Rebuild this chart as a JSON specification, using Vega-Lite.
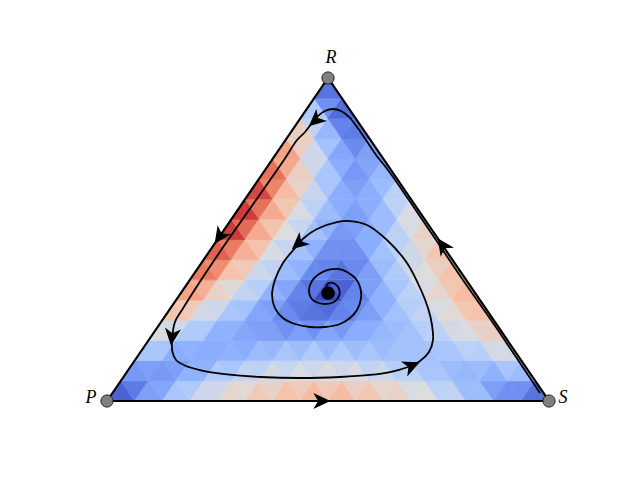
{
"$schema":"https://vega.github.io/schema/vega-lite/v6.json",
"width":640,"height":478,
"autosize":{"type":"fit","contains":"padding"},
"padding":0,
"background":"white",
"config":{"view":{"stroke":null}},
"datasets":{
"heat":[
{"x":1,"y":1,"t":"u","v":3},{"x":2,"y":1,"t":"d","v":6},{"x":3,"y":1,"t":"u","v":11},{"x":4,"y":1,"t":"d","v":12},{"x":5,"y":1,"t":"u","v":18},{"x":6,"y":1,"t":"d","v":19},{"x":7,"y":1,"t":"u","v":24},{"x":8,"y":1,"t":"d","v":24},{"x":9,"y":1,"t":"u","v":29},{"x":10,"y":1,"t":"d","v":28},{"x":11,"y":1,"t":"u","v":32},{"x":12,"y":1,"t":"d","v":30},{"x":13,"y":1,"t":"u","v":34},{"x":14,"y":1,"t":"d","v":32},{"x":15,"y":1,"t":"u","v":35},{"x":16,"y":1,"t":"d","v":32},{"x":17,"y":1,"t":"u","v":35},{"x":18,"y":1,"t":"d","v":31},{"x":19,"y":1,"t":"u","v":33},{"x":20,"y":1,"t":"d","v":29},{"x":21,"y":1,"t":"u","v":30},{"x":22,"y":1,"t":"d","v":26},{"x":23,"y":1,"t":"u","v":27},{"x":24,"y":1,"t":"d","v":21},{"x":25,"y":1,"t":"u","v":22},{"x":26,"y":1,"t":"d","v":16},{"x":27,"y":1,"t":"u","v":16},{"x":28,"y":1,"t":"d","v":11},{"x":29,"y":1,"t":"u","v":9},{"x":30,"y":1,"t":"d","v":9},{"x":31,"y":1,"t":"u","v":5},
{"x":2,"y":3,"t":"u","v":10},{"x":3,"y":3,"t":"d","v":11},{"x":4,"y":3,"t":"u","v":10},{"x":5,"y":3,"t":"d","v":11},{"x":6,"y":3,"t":"u","v":14},{"x":7,"y":3,"t":"d","v":14},{"x":8,"y":3,"t":"u","v":19},{"x":9,"y":3,"t":"d","v":18},{"x":10,"y":3,"t":"u","v":22},{"x":11,"y":3,"t":"d","v":21},{"x":12,"y":3,"t":"u","v":25},{"x":13,"y":3,"t":"d","v":23},{"x":14,"y":3,"t":"u","v":26},{"x":15,"y":3,"t":"d","v":24},{"x":16,"y":3,"t":"u","v":26},{"x":17,"y":3,"t":"d","v":24},{"x":18,"y":3,"t":"u","v":26},{"x":19,"y":3,"t":"d","v":22},{"x":20,"y":3,"t":"u","v":24},{"x":21,"y":3,"t":"d","v":20},{"x":22,"y":3,"t":"u","v":21},{"x":23,"y":3,"t":"d","v":18},{"x":24,"y":3,"t":"u","v":18},{"x":25,"y":3,"t":"d","v":16},{"x":26,"y":3,"t":"u","v":15},{"x":27,"y":3,"t":"d","v":16},{"x":28,"y":3,"t":"u","v":14},{"x":29,"y":3,"t":"d","v":18},{"x":30,"y":3,"t":"u","v":16},
{"x":3,"y":5,"t":"u","v":18},{"x":4,"y":5,"t":"d","v":18},{"x":5,"y":5,"t":"u","v":13},{"x":6,"y":5,"t":"d","v":14},{"x":7,"y":5,"t":"u","v":13},{"x":8,"y":5,"t":"d","v":13},{"x":9,"y":5,"t":"u","v":14},{"x":10,"y":5,"t":"d","v":13},{"x":11,"y":5,"t":"u","v":16},{"x":12,"y":5,"t":"d","v":15},{"x":13,"y":5,"t":"u","v":18},{"x":14,"y":5,"t":"d","v":16},{"x":15,"y":5,"t":"u","v":19},{"x":16,"y":5,"t":"d","v":16},{"x":17,"y":5,"t":"u","v":19},{"x":18,"y":5,"t":"d","v":16},{"x":19,"y":5,"t":"u","v":18},{"x":20,"y":5,"t":"d","v":16},{"x":21,"y":5,"t":"u","v":17},{"x":22,"y":5,"t":"d","v":17},{"x":23,"y":5,"t":"u","v":17},{"x":24,"y":5,"t":"d","v":18},{"x":25,"y":5,"t":"u","v":18},{"x":26,"y":5,"t":"d","v":21},{"x":27,"y":5,"t":"u","v":20},{"x":28,"y":5,"t":"d","v":25},{"x":29,"y":5,"t":"u","v":25},
{"x":4,"y":7,"t":"u","v":26},{"x":5,"y":7,"t":"d","v":25},{"x":6,"y":7,"t":"u","v":19},{"x":7,"y":7,"t":"d","v":19},{"x":8,"y":7,"t":"u","v":14},{"x":9,"y":7,"t":"d","v":14},{"x":10,"y":7,"t":"u","v":12},{"x":11,"y":7,"t":"d","v":11},{"x":12,"y":7,"t":"u","v":11},{"x":13,"y":7,"t":"d","v":9},{"x":14,"y":7,"t":"u","v":11},{"x":15,"y":7,"t":"d","v":9},{"x":16,"y":7,"t":"u","v":12},{"x":17,"y":7,"t":"d","v":10},{"x":18,"y":7,"t":"u","v":13},{"x":19,"y":7,"t":"d","v":13},{"x":20,"y":7,"t":"u","v":15},{"x":21,"y":7,"t":"d","v":16},{"x":22,"y":7,"t":"u","v":17},{"x":23,"y":7,"t":"d","v":20},{"x":24,"y":7,"t":"u","v":21},{"x":25,"y":7,"t":"d","v":25},{"x":26,"y":7,"t":"u","v":26},{"x":27,"y":7,"t":"d","v":30},{"x":28,"y":7,"t":"u","v":31},
{"x":5,"y":9,"t":"u","v":33},{"x":6,"y":9,"t":"d","v":32},{"x":7,"y":9,"t":"u","v":25},{"x":8,"y":9,"t":"d","v":24},{"x":9,"y":9,"t":"u","v":18},{"x":10,"y":9,"t":"d","v":17},{"x":11,"y":9,"t":"u","v":12},{"x":12,"y":9,"t":"d","v":11},{"x":13,"y":9,"t":"u","v":8},{"x":14,"y":9,"t":"d","v":6},{"x":15,"y":9,"t":"u","v":5},{"x":16,"y":9,"t":"d","v":4},{"x":17,"y":9,"t":"u","v":7},{"x":18,"y":9,"t":"d","v":8},{"x":19,"y":9,"t":"u","v":11},{"x":20,"y":9,"t":"d","v":14},{"x":21,"y":9,"t":"u","v":17},{"x":22,"y":9,"t":"d","v":20},{"x":23,"y":9,"t":"u","v":22},{"x":24,"y":9,"t":"d","v":26},{"x":25,"y":9,"t":"u","v":28},{"x":26,"y":9,"t":"d","v":33},{"x":27,"y":9,"t":"u","v":34},
{"x":6,"y":11,"t":"u","v":39},{"x":7,"y":11,"t":"d","v":37},{"x":8,"y":11,"t":"u","v":30},{"x":9,"y":11,"t":"d","v":28},{"x":10,"y":11,"t":"u","v":22},{"x":11,"y":11,"t":"d","v":20},{"x":12,"y":11,"t":"u","v":14},{"x":13,"y":11,"t":"d","v":12},{"x":14,"y":11,"t":"u","v":7},{"x":15,"y":11,"t":"d","v":5},{"x":16,"y":11,"t":"u","v":0},{"x":17,"y":11,"t":"d","v":3},{"x":18,"y":11,"t":"u","v":7},{"x":19,"y":11,"t":"d","v":11},{"x":20,"y":11,"t":"u","v":14},{"x":21,"y":11,"t":"d","v":18},{"x":22,"y":11,"t":"u","v":21},{"x":23,"y":11,"t":"d","v":26},{"x":24,"y":11,"t":"u","v":29},{"x":25,"y":11,"t":"d","v":33},{"x":26,"y":11,"t":"u","v":35},
{"x":7,"y":13,"t":"u","v":44},{"x":8,"y":13,"t":"d","v":42},{"x":9,"y":13,"t":"u","v":34},{"x":10,"y":13,"t":"d","v":32},{"x":11,"y":13,"t":"u","v":24},{"x":12,"y":13,"t":"d","v":22},{"x":13,"y":13,"t":"u","v":16},{"x":14,"y":13,"t":"d","v":14},{"x":15,"y":13,"t":"u","v":8},{"x":16,"y":13,"t":"d","v":7},{"x":17,"y":13,"t":"u","v":5},{"x":18,"y":13,"t":"d","v":8},{"x":19,"y":13,"t":"u","v":11},{"x":20,"y":13,"t":"d","v":16},{"x":21,"y":13,"t":"u","v":19},{"x":22,"y":13,"t":"d","v":24},{"x":23,"y":13,"t":"u","v":27},{"x":24,"y":13,"t":"d","v":31},{"x":25,"y":13,"t":"u","v":34},
{"x":8,"y":15,"t":"u","v":47},{"x":9,"y":15,"t":"d","v":44},{"x":10,"y":15,"t":"u","v":37},{"x":11,"y":15,"t":"d","v":34},{"x":12,"y":15,"t":"u","v":26},{"x":13,"y":15,"t":"d","v":23},{"x":14,"y":15,"t":"u","v":17},{"x":15,"y":15,"t":"d","v":14},{"x":16,"y":15,"t":"u","v":9},{"x":17,"y":15,"t":"d","v":9},{"x":18,"y":15,"t":"u","v":9},{"x":19,"y":15,"t":"d","v":13},{"x":20,"y":15,"t":"u","v":17},{"x":21,"y":15,"t":"d","v":21},{"x":22,"y":15,"t":"u","v":24},{"x":23,"y":15,"t":"d","v":29},{"x":24,"y":15,"t":"u","v":33},
{"x":9,"y":17,"t":"u","v":50},{"x":10,"y":17,"t":"d","v":46},{"x":11,"y":17,"t":"u","v":38},{"x":12,"y":17,"t":"d","v":34},{"x":13,"y":17,"t":"u","v":27},{"x":14,"y":17,"t":"d","v":23},{"x":15,"y":17,"t":"u","v":17},{"x":16,"y":17,"t":"d","v":14},{"x":17,"y":17,"t":"u","v":10},{"x":18,"y":17,"t":"d","v":11},{"x":19,"y":17,"t":"u","v":13},{"x":20,"y":17,"t":"d","v":16},{"x":21,"y":17,"t":"u","v":21},{"x":22,"y":17,"t":"d","v":26},{"x":23,"y":17,"t":"u","v":30},
{"x":10,"y":19,"t":"u","v":50},{"x":11,"y":19,"t":"d","v":45},{"x":12,"y":19,"t":"u","v":38},{"x":13,"y":19,"t":"d","v":33},{"x":14,"y":19,"t":"u","v":26},{"x":15,"y":19,"t":"d","v":21},{"x":16,"y":19,"t":"u","v":16},{"x":17,"y":19,"t":"d","v":13},{"x":18,"y":19,"t":"u","v":11},{"x":19,"y":19,"t":"d","v":13},{"x":20,"y":19,"t":"u","v":16},{"x":21,"y":19,"t":"d","v":21},{"x":22,"y":19,"t":"u","v":26},
{"x":11,"y":21,"t":"u","v":49},{"x":12,"y":21,"t":"d","v":43},{"x":13,"y":21,"t":"u","v":35},{"x":14,"y":21,"t":"d","v":30},{"x":15,"y":21,"t":"u","v":23},{"x":16,"y":21,"t":"d","v":18},{"x":17,"y":21,"t":"u","v":13},{"x":18,"y":21,"t":"d","v":11},{"x":19,"y":21,"t":"u","v":13},{"x":20,"y":21,"t":"d","v":16},{"x":21,"y":21,"t":"u","v":21},
{"x":12,"y":23,"t":"u","v":45},{"x":13,"y":23,"t":"d","v":38},{"x":14,"y":23,"t":"u","v":31},{"x":15,"y":23,"t":"d","v":24},{"x":16,"y":23,"t":"u","v":18},{"x":17,"y":23,"t":"d","v":13},{"x":18,"y":23,"t":"u","v":10},{"x":19,"y":23,"t":"d","v":12},{"x":20,"y":23,"t":"u","v":15},
{"x":13,"y":25,"t":"u","v":39},{"x":14,"y":25,"t":"d","v":31},{"x":15,"y":25,"t":"u","v":24},{"x":16,"y":25,"t":"d","v":17},{"x":17,"y":25,"t":"u","v":12},{"x":18,"y":25,"t":"d","v":8},{"x":19,"y":25,"t":"u","v":11},
{"x":14,"y":27,"t":"u","v":31},{"x":15,"y":27,"t":"d","v":22},{"x":16,"y":27,"t":"u","v":15},{"x":17,"y":27,"t":"d","v":7},{"x":18,"y":27,"t":"u","v":6},
{"x":15,"y":29,"t":"u","v":19},{"x":16,"y":29,"t":"d","v":9},{"x":17,"y":29,"t":"u","v":4},
{"x":16,"y":31,"t":"u","v":5}
],
"edges":[{"i":0,"x":0,"y":0},{"i":1,"x":32,"y":0},{"i":2,"x":16,"y":32},{"i":3,"x":0,"y":0}],
"traj":[
{"i":0,"x":31.35,"y":0.79},{"i":1,"x":29.76,"y":4.06},{"i":2,"x":27.8,"y":8.02},{"i":3,"x":25.77,"y":11.99},{"i":4,"x":23.82,"y":15.95},{"i":5,"x":21.86,"y":19.91},{"i":6,"x":20.34,"y":22.89},{"i":7,"x":19.48,"y":24.37},{"i":8,"x":18.75,"y":25.86},{"i":9,"x":18.1,"y":27.15},{"i":10,"x":17.52,"y":28.14},{"i":11,"x":16.94,"y":28.73},{"i":12,"x":16.36,"y":28.93},{"i":13,"x":15.78,"y":28.73},{"i":14,"x":15.28,"y":28.24},{"i":15,"x":14.84,"y":27.54},{"i":16,"x":14.34,"y":26.65},{"i":17,"x":13.76,"y":25.86},{"i":18,"x":12.81,"y":23.88},{"i":19,"x":10.79,"y":19.91},{"i":20,"x":8.76,"y":15.95},{"i":21,"x":6.81,"y":11.99},{"i":22,"x":5.43,"y":9.02},{"i":23,"x":4.92,"y":7.83},{"i":24,"x":4.71,"y":6.04},{"i":25,"x":4.74,"y":4.85},{"i":26,"x":5.0,"y":4.06},{"i":27,"x":5.72,"y":3.47},{"i":28,"x":6.73,"y":3.07},{"i":29,"x":7.96,"y":2.77},{"i":30,"x":9.05,"y":2.58},{"i":31,"x":11.08,"y":2.38},{"i":32,"x":13.97,"y":2.28},{"i":33,"x":16.87,"y":2.38},{"i":34,"x":19.04,"y":2.58},{"i":35,"x":20.49,"y":2.87},{"i":36,"x":21.79,"y":3.37},{"i":37,"x":22.66,"y":3.96},{"i":38,"x":23.31,"y":4.85},{"i":39,"x":23.6,"y":6.04},{"i":40,"x":23.53,"y":7.53},{"i":41,"x":23.24,"y":9.21},{"i":42,"x":22.73,"y":11.0},{"i":43,"x":21.72,"y":13.67},{"i":44,"x":20.27,"y":15.95},{"i":45,"x":18.82,"y":17.44},{"i":46,"x":17.59,"y":17.83},{"i":47,"x":16.65,"y":17.73},{"i":48,"x":15.2,"y":17.04},{"i":49,"x":14.26,"y":16.15},{"i":50,"x":13.68,"y":15.26},{"i":51,"x":12.74,"y":13.67},{"i":52,"x":12.16,"y":11.99},{"i":53,"x":11.95,"y":10.5},{"i":54,"x":12.16,"y":9.21},{"i":55,"x":12.74,"y":8.22},{"i":56,"x":13.61,"y":7.63},{"i":57,"x":14.7,"y":7.33},{"i":58,"x":15.78,"y":7.33},{"i":59,"x":16.87,"y":7.63},{"i":60,"x":17.59,"y":8.22},{"i":61,"x":18.1,"y":9.02},{"i":62,"x":18.39,"y":10.2},{"i":63,"x":18.32,"y":11.29},{"i":64,"x":17.96,"y":12.19},{"i":65,"x":17.38,"y":12.78},{"i":66,"x":16.72,"y":13.08},{"i":67,"x":16.0,"y":12.98},{"i":68,"x":15.35,"y":12.58},{"i":69,"x":14.84,"y":11.89},{"i":70,"x":14.62,"y":11.0},{"i":71,"x":14.77,"y":10.2},{"i":72,"x":15.13,"y":9.81},{"i":73,"x":15.78,"y":9.61},{"i":74,"x":16.43,"y":9.81},{"i":75,"x":16.8,"y":10.4},{"i":76,"x":16.8,"y":11.1},{"i":77,"x":16.51,"y":11.59},{"i":78,"x":16.07,"y":11.69},{"i":79,"x":15.86,"y":11.29},{"i":80,"x":16.0,"y":10.7}
],
"arrows":[
{"x":15.49,"y":0,"a":90},{"x":24.33,"y":15.36,"a":-34.4},{"x":8.18,"y":16.35,"a":214.4},{"x":15.13,"y":27.84,"a":228.6},{"x":4.71,"y":6.44,"a":186.8},{"x":22.01,"y":3.47,"a":66.5},{"x":13.9,"y":15.65,"a":229.4}
],
"center":[{"x":16,"y":10.67}],
"verts":[{"x":16,"y":32},{"x":0,"y":0},{"x":32,"y":0}],
"labels":[{"x":16.22,"y":33.98,"n":"R"},{"x":-1.16,"y":0.3,"n":"P"},{"x":33.01,"y":0.3,"n":"S"}]
},
"encoding":{
"x":{"field":"x","type":"quantitative","scale":{"domain":[-7.7466,38.5882],"nice":false,"zero":false},"axis":null},
"y":{"field":"y","type":"quantitative","scale":{"domain":[-7.6285,39.7276],"nice":false,"zero":false},"axis":null}
},
"layer":[
{"data":{"name":"heat"},
 "mark":{"type":"point","filled":true,"size":763,"strokeWidth":0.7,"opacity":1},
 "encoding":{
  "shape":{"field":"t","type":"nominal","scale":{"domain":["u","d"],"range":["M0,-0.7308L1,0.7308L-1,0.7308Z","M-1,-0.7308L1,-0.7308L0,0.7308Z"]},"legend":null},
  "fill":{"field":"v","type":"quantitative","scale":{"type":"linear","domain":[0,6.75,13.5,20.25,27,33.75,40.5,47.25,54],"range":["#3b4cc0","#6282ea","#8db0fe","#b8d0f9","#dddddd","#f5c4ad","#f49a7b","#de604d","#b40426"],"interpolate":"rgb"},"legend":null},
  "stroke":{"field":"v","type":"quantitative","scale":{"type":"linear","domain":[0,6.75,13.5,20.25,27,33.75,40.5,47.25,54],"range":["#3b4cc0","#6282ea","#8db0fe","#b8d0f9","#dddddd","#f5c4ad","#f49a7b","#de604d","#b40426"],"interpolate":"rgb"},"legend":null}
 }},
{"data":{"name":"edges"},"mark":{"type":"line","color":"black","strokeWidth":2.2},"encoding":{"order":{"field":"i","type":"quantitative"}}},
{"data":{"name":"traj"},"mark":{"type":"line","color":"black","strokeWidth":1.8,"interpolate":"catmull-rom"},"encoding":{"order":{"field":"i","type":"quantitative"}}},
{"data":{"name":"arrows"},"mark":{"type":"point","filled":true,"color":"black","opacity":1,"size":360,"shape":"M0,-1L0.85,0.8L0,0.3L-0.85,0.8Z"},"encoding":{"angle":{"field":"a","type":"quantitative","scale":null}}},
{"data":{"name":"center"},"mark":{"type":"point","shape":"circle","filled":true,"color":"black","opacity":1,"size":180}},
{"data":{"name":"verts"},"mark":{"type":"point","shape":"circle","filled":true,"fill":"#808080","stroke":"#222222","strokeWidth":1,"opacity":1,"size":150}},
{"data":{"name":"labels"},"mark":{"type":"text","font":"Liberation Serif","fontStyle":"italic","fontSize":18,"align":"center","baseline":"middle","color":"black"},"encoding":{"text":{"field":"n","type":"nominal"}}}
]
}
